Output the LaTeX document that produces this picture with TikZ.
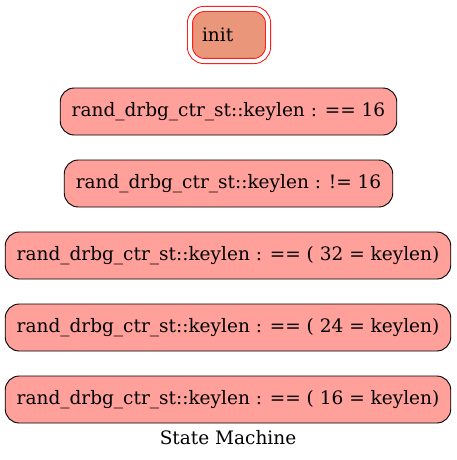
\documentclass[tikz,border=0pt]{standalone}
\usepackage{fontspec}
\setmainfont{DejaVu Serif}
\usetikzlibrary{positioning}
\definecolor{sFill}{HTML}{FFA09B}
\definecolor{sInit}{HTML}{E9967A}
\definecolor{sRed}{HTML}{FF0000}

\begin{document}
\begin{tikzpicture}[
  x=1pt, y=-1pt,
  every node/.style={font=\fontsize{18.5}{22}\selectfont},
  state/.style={draw=black, line width=0.9pt, fill=sFill, rounded corners=14pt, minimum height=47pt, inner xsep=11.5pt},
  initstate/.style={draw=sRed, line width=0.9pt, fill=sInit, rounded corners=14pt, double=white, double distance=4.2pt,
    minimum width=78pt, minimum height=52pt, text width=54pt, align=left, inner xsep=12pt},
]
  \useasboundingbox (0,0) rectangle (457,460);
  \node[initstate] (init) at (229,35) {init};
  \node[state] (eq16) at (228.5,111.5) {rand\_drbg\_ctr\_st::keylen : == 16};
  \node[state] (ne16) at (228.5,183.5) {rand\_drbg\_ctr\_st::keylen : != 16};
  \node[state] (k32) at (228,255.5) {rand\_drbg\_ctr\_st::keylen : == ( 32 = keylen)};
  \node[state] (k24) at (228,327.5) {rand\_drbg\_ctr\_st::keylen : == ( 24 = keylen)};
  \node[state] (k16) at (228,399.5) {rand\_drbg\_ctr\_st::keylen : == ( 16 = keylen)};
  \node (title) at (228,438) {State Machine};
\end{tikzpicture}
\end{document}
